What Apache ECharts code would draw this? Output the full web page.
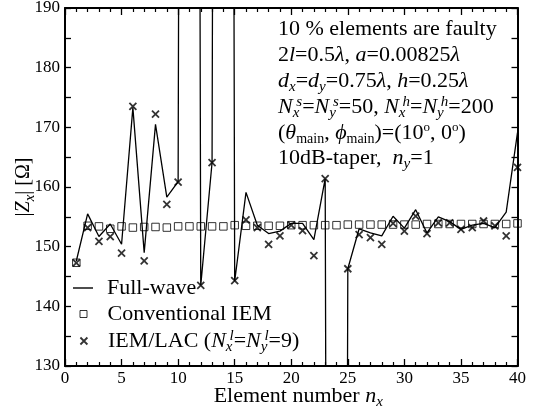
<!DOCTYPE html>
<html><head><meta charset="utf-8">
<script src="https://cdn.jsdelivr.net/npm/echarts@6/dist/echarts.min.js"></script>
<style>html,body{margin:0;padding:0;background:#fff}#c{width:534px;height:414px}</style>
</head><body><div id="c"></div>
<script>
// ---- data ----
const elementNumbers = [1,2,3,4,5,6,7,8,9,10,11,12,13,14,15,16,17,18,19,20,21,22,23,24,25,26,27,28,29,30,31,32,33,34,35,36,37,38,39,40];
// Full-wave (values at 11, 14 and 24 are far off-scale)
const fullWave = [147.6,155.5,151.7,153.8,150.4,173.3,149.0,170.5,158.3,160.9,900,143.5,164.1,900,144.2,159.1,153.6,152.2,152.6,153.9,153.9,151.2,161.4,-500,146.3,153.0,152.3,151.8,155.1,153.1,156.2,152.3,155.0,154.2,152.9,153.6,153.9,153.2,155.8,169.1];
const conventionalIEM = [147.3,153.5,153.4,153.0,153.4,153.2,153.3,153.3,153.2,153.4,153.4,153.4,153.4,153.4,153.6,153.5,153.5,153.5,153.5,153.6,153.6,153.6,153.6,153.6,153.7,153.7,153.7,153.7,153.7,153.7,153.7,153.8,153.8,153.8,153.8,153.8,153.8,153.8,153.8,153.9];
const iemLac = [147.3,153.2,150.9,151.7,148.9,173.5,147.6,172.2,157.1,160.8,null,143.5,164.1,null,144.3,154.5,153.2,150.4,151.8,153.6,152.7,148.5,161.4,null,146.3,152.0,151.5,150.4,153.9,152.6,155.1,152.2,154.0,154.0,152.9,153.2,154.3,153.5,151.8,163.3];
const xAxisRange = {min: 0, max: 40, interval: 5};
const yAxisRange = {min: 130, max: 190, interval: 10};
const seriesNames = ['Full-wave', 'Conventional IEM', 'IEM/LAC (Nxl=Nyl=9)'];
const legendLabels = {
  'Full-wave': 'Full-wave',
  'Conventional IEM': 'Conventional IEM',
  'IEM/LAC (Nxl=Nyl=9)': 'IEM/LAC ({i|N}{sub|x}{supS|l}={i|N}{sub|y}{supS|l}=9)'
};
const annotationLines = [
  '10 % elements are faulty',
  '2{i|l}=0.5{i|λ}, {i|a}=0.00825{i|λ}',
  '{i|d}{sub|x}={i|d}{sub|y}=0.75{i|λ}, {i|h}=0.25{i|λ}',
  '{i|N}{sub|x}{supS|s}={i|N}{sub|y}{supS|s}=50, {i|N}{sub|x}{supS|h}={i|N}{sub|y}{supS|h}=200',
  '({i|θ}{subm|main}, {i|ϕ}{subm|main})=(10{sup|o}, 0{sup|o})',
  '10dB-taper,  {i|n}{sub|y}=1'
];
const xAxisTitle = 'Element number {i|n}{sub|x}';
const yAxisTitle = '|{i|Z}{sub|x}| [Ω]';

// ---- styling helpers ----
const F = 'Liberation Serif';
function rich(size, colorKey) {
  const c = {}; c[colorKey] = '#000';
  return {
    i:     Object.assign({fontFamily: F, fontSize: size, fontStyle: 'italic', lineHeight: 24}, c),
    sub:   Object.assign({fontFamily: F, fontSize: 15, fontStyle: 'italic', lineHeight: 15, padding: [12, 0, 0, 0]}, c),
    subm:  Object.assign({fontFamily: F, fontSize: 14, lineHeight: 14, padding: [12, 0, 0, 0]}, c),
    sup:   Object.assign({fontFamily: F, fontSize: 13, lineHeight: 13, padding: [0, 0, 10, 0]}, c),
    supS:  Object.assign({fontFamily: F, fontSize: 15, fontStyle: 'italic', lineHeight: 15, padding: [0, 0, 9, -3]}, c)
  };
}

const chart = echarts.init(document.getElementById('c'), null, {renderer: 'canvas'});

const axisLineStyle = {color: '#000', width: 2};
function xAxisDef(pos, showLabel) {
  return {
    type: 'value', position: pos, min: xAxisRange.min, max: xAxisRange.max, interval: xAxisRange.interval,
    axisLine: {show: true, onZero: false, lineStyle: axisLineStyle},
    axisTick: {show: true, inside: true, length: 7, lineStyle: {color: '#000', width: 1.3}},
    minorTick: {show: true, splitNumber: 5, length: 4, lineStyle: {color: '#000', width: 1.2}},
    splitLine: {show: false}, minorSplitLine: {show: false},
    axisLabel: {show: showLabel, fontFamily: F, fontSize: 17, color: '#000', margin: 4},
    name: showLabel ? xAxisTitle : '', nameLocation: 'middle', nameGap: 18, nameMoveOverlap: false,
    nameTextStyle: {fontFamily: F, fontSize: 22, color: '#000', lineHeight: 24, padding: [0, 0, 0, 14], rich: rich(22, 'color')}
  };
}
function yAxisDef(pos, showLabel) {
  return {
    type: 'value', position: pos, min: yAxisRange.min, max: yAxisRange.max, interval: yAxisRange.interval,
    axisLine: {show: true, onZero: false, lineStyle: axisLineStyle},
    axisTick: {show: true, inside: true, length: 6, lineStyle: {color: '#000', width: 1.3}},
    minorTick: {show: true, splitNumber: 2, length: 6, lineStyle: {color: '#000', width: 1.3}},
    splitLine: {show: false}, minorSplitLine: {show: false},
    axisLabel: {show: showLabel, fontFamily: F, fontSize: 17, color: '#000', margin: 5},
    name: showLabel ? yAxisTitle : '', nameLocation: 'middle', nameGap: 29, nameMoveOverlap: false,
    nameTextStyle: {fontFamily: F, fontSize: 20, color: '#000', lineHeight: 22, rich: rich(20, 'color')}
  };
}

const legendRich = rich(22, 'color');
const legendIcons = [
  {left: 73, w: 20, h: 1.4, icon: 'rect', style: {color: '#000', borderWidth: 0}, pad: 9},
  {left: 79.5, w: 7, h: 7, icon: 'rect', style: {color: 'rgba(255,255,255,0)', borderColor: '#000', borderWidth: 1}, pad: 15.5},
  {left: 79.5, w: 7, h: 7, icon: 'path://M0,0L10,10M0,10L10,0', style: {color: 'rgba(255,255,255,0)', borderColor: '#000', borderWidth: 1.8}, pad: 15.5}
];
const legendCenters = [288, 314, 339.5];
function legendDef(k) {
  const ic = legendIcons[k];
  return {
    show: true, data: [{name: seriesNames[k], icon: ic.icon, itemStyle: ic.style}],
    left: ic.left, top: legendCenters[k] - 12, orient: 'vertical', padding: 0,
    itemWidth: ic.w, itemHeight: ic.h, selectedMode: false, symbolKeepAspect: true,
    formatter: n => legendLabels[n],
    textStyle: {fontFamily: F, fontSize: 22, color: '#000', lineHeight: 24, padding: [0, 0, 0, ic.pad], rich: legendRich}
  };
}

const pairs = arr => elementNumbers.map((n, i) => [n, arr[i]]).filter(p => p[1] !== null);

const graphicRich = rich(22, 'fill');
const lineCenters = [29, 55, 81, 107, 133, 158.5];
const graphics = annotationLines.map((t, k) => ({
  type: 'text', x: 278, y: lineCenters[k], z: 100,
  style: {text: t, fontFamily: F, fontSize: 22, fill: '#000', align: 'left', verticalAlign: 'middle', lineHeight: 24, rich: graphicRich}
}));

chart.setOption({
  animation: false,
  backgroundColor: '#fff',
  grid: {left: 65, right: 16.5, top: 8, bottom: 48, containLabel: false, outerBoundsMode: 'none'},
  xAxis: [xAxisDef('bottom', true), xAxisDef('top', false)],
  yAxis: [yAxisDef('left', true), yAxisDef('right', false)],
  legend: [legendDef(0), legendDef(1), legendDef(2)],
  graphic: graphics,
  series: [
    {type: 'line', name: seriesNames[0], data: pairs(fullWave), symbol: 'none', clip: true,
     lineStyle: {color: '#000', width: 1.3}, itemStyle: {color: '#000'}, z: 2},
    {type: 'scatter', name: seriesNames[1], data: pairs(conventionalIEM), symbol: 'rect', symbolSize: 7.5, clip: true,
     itemStyle: {color: 'rgba(255,255,255,0)', borderColor: '#000', borderWidth: 1}, z: 3},
    {type: 'scatter', name: seriesNames[2], data: pairs(iemLac), symbol: 'path://M0,0L10,10M0,10L10,0', symbolSize: 7, clip: true,
     itemStyle: {color: 'rgba(255,255,255,0)', borderColor: '#000', borderWidth: 1.8}, z: 4}
  ]
});
</script></body></html>
